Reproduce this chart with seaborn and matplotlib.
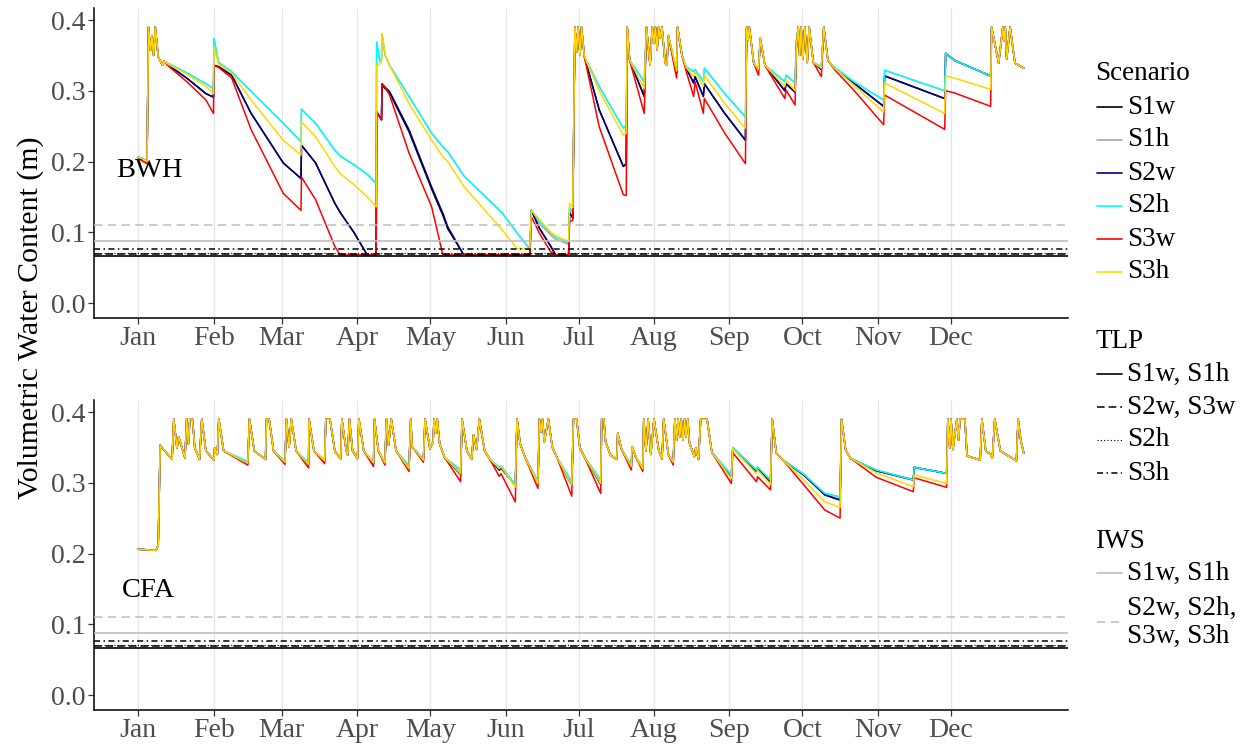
import matplotlib
matplotlib.use("Agg")
import matplotlib.pyplot as plt
from matplotlib.lines import Line2D
import pandas as pd
import seaborn as sns

# ---------------- axis categories ----------------
month_labels = ["Jan", "Feb", "Mar", "Apr", "May", "Jun",
                "Jul", "Aug", "Sep", "Oct", "Nov", "Dec"]
month_start_day = [1, 32, 60, 91, 121, 152, 182, 213, 244, 274, 305, 335]
ytick_values = [0.0, 0.1, 0.2, 0.3, 0.4]

scenarios = ["S1w", "S1h", "S2w", "S2h", "S3w", "S3h"]
scenario_colors = ["#000000", "#A6A6A6", "#000080", "#00FFFF", "#FF0000", "#FFD700"]

# ---------------- BWH (hot desert) ----------------
# points where every scenario follows the same wet-up spikes
bwh_shared_day = [5.2, 6.0, 6.6, 7.3, 8.0, 9.2, 10.9, 11.6,
                  180.5, 181.2, 181.8, 182.6, 183.2, 184.4,
                  202.0, 203.0,
                  209.9, 211.4, 212.3, 213.0, 213.6, 214.3, 214.9, 215.6, 216.3, 217.6, 218.3, 218.9,
                  222.7, 224.5,
                  251.1, 251.7, 252.2, 254.0,
                  256.7, 258.6,
                  272.3, 272.9, 273.5, 274.2, 275.0, 276.0, 276.8, 278.5,
                  282.8, 284.5,
                  351.8, 354.7, 356.4, 356.9, 357.4, 358.0, 359.4, 361.4, 365.0]
bwh_shared_vwc = [.390, .357, .377, .350, .390, .348, .336, .342,
                  .390, .355, .390, .350, .390, .348,
                  .390, .343,
                  .390, .336, .390, .367, .390, .358, .390, .375, .390, .339, .336, .378,
                  .390, .350,
                  .390, .372, .390, .339,
                  .374, .336,
                  .390, .350, .390, .345, .390, .340, .390, .340,
                  .390, .343,
                  .390, .339, .390, .370, .390, .345, .390, .339, .332]

# dry-down points where the scenarios separate
bwh_split_day = [1.0, 4.6,
                 13.0, 20.9, 28.8, 31.9, 32.1, 34.0, 39.4, 47.4,
                 60.6, 67.9, 68.1, 73.9, 81.8, 84.0, 89.8, 95.1, 98.8, 99.0,
                 100.3, 101.0, 101.2, 102.5, 104.3, 112.3, 121.6, 126.2, 128.2, 134.8,
                 150.7, 156.7, 162.0, 162.6, 166.0, 170.6, 172.5, 177.9, 178.3, 179.6,
                 190.5, 200.4, 201.6, 209.0, 222.3, 226.2, 229.3, 229.9, 233.3, 233.7,
                 242.1, 250.6, 256.0, 266.8, 267.3, 271.0, 271.5, 281.8, 287.2, 295.1,
                 307.4, 307.8, 332.5, 332.9, 336.5, 351.4]
bwh_s1w = [.206, .200,
           .337, .318, .296, .291, .336, .334, .322, .268,
           .198, .176, .223, .198, .141, .128, .099, .068, .068, .270,
           .263, .259, .308, .303, .297, .242, .161, .124, .105, .068,
           .068, .068, .068, .131, .105, .080, .068, .068, .128, .120,
           .273, .193, .197, .292, .325, .332, .311, .320, .292, .310,
           .268, .230, .330, .300, .310, .298, .360, .330, .332, .311,
           .278, .321, .289, .353, .343, .321]
bwh_s1h = [.207, .201,
           .339, .3255, .310, .303, .374, .340, .327, .299,
           .254, .228, .274, .254, .216, .208, .195, .182, .169, .369,
           .342, .345, .380, .350, .336, .292, .240, .221, .214, .180,
           .127, .099, .076, .131, .112, .096, .090, .083, .133, .128,
           .306, .247, .252, .313, .330, .334, .327, .330, .313, .332,
           .296, .263, .332, .313, .322, .311, .370, .334, .333, .313,
           .287, .329, .300, .353, .343, .321]
bwh_s2w = [.206, .200,
           .337, .318, .296, .291, .336, .334, .322, .268,
           .198, .176, .223, .198, .141, .128, .099, .068, .068, .270,
           .263, .259, .310, .305, .299, .245, .164, .127, .108, .068,
           .068, .068, .068, .131, .105, .080, .068, .068, .128, .120,
           .273, .193, .197, .292, .325, .332, .311, .320, .292, .310,
           .268, .230, .330, .300, .310, .298, .360, .330, .332, .311,
           .278, .321, .289, .353, .343, .321]
bwh_s2h = [.207, .201,
           .339, .3255, .310, .303, .374, .340, .327, .299,
           .254, .228, .274, .254, .216, .208, .195, .182, .169, .369,
           .342, .345, .380, .350, .336, .292, .240, .221, .214, .180,
           .127, .099, .076, .131, .115, .099, .093, .085, .135, .130,
           .306, .247, .252, .313, .330, .334, .327, .330, .313, .332,
           .296, .263, .332, .313, .322, .311, .370, .334, .333, .313,
           .287, .329, .300, .353, .343, .321]
bwh_s3w = [.204, .197,
           .336, .313, .287, .268, .336, .333, .318, .245,
           .155, .131, .178, .146, .080, .068, .068, .068, .068, .270,
           .263, .259, .310, .305, .294, .212, .136, .068, .068, .068,
           .068, .068, .068, .122, .098, .072, .068, .068, .115, .117,
           .249, .153, .152, .268, .318, .328, .292, .313, .268, .289,
           .240, .197, .322, .289, .301, .280, .360, .320, .330, .301,
           .252, .294, .2455, .300, .297, .278]
bwh_s3h = [.206, .200,
           .338, .3235, .306, .296, .362, .338, .325, .287,
           .230, .209, .256, .235, .193, .183, .167, .150, .136, .336,
           .338, .340, .381, .350, .336, .282, .230, .207, .200, .165,
           .103, .077, .077, .131, .118, .100, .095, .087, .141, .135,
           .300, .237, .240, .303, .328, .333, .320, .327, .306, .322,
           .282, .247, .330, .306, .315, .300, .360, .332, .332, .308,
           .270, .311, .268, .321, .318, .302]

# ---------------- CFA (humid subtropical) ----------------
cfa_shared_day = [1.0, 8.3, 9.2, 10.0, 10.9, 14.9, 15.6, 16.9, 17.6, 20.2,
                  20.9, 21.6, 22.2, 23.3, 24.2, 26.2, 27.1, 28.8, 32.1, 32.4,
                  33.5, 34.1, 36.1, 46.7, 48.7, 53.3, 53.7, 54.8, 56.6, 61.9,
                  63.0, 63.9, 65.9, 71.2, 73.2, 78.1, 79.8, 81.8, 84.2, 84.7,
                  86.5, 87.1, 87.8, 89.1, 91.1, 91.7, 93.7, 98.1, 99.7, 103.0,
                  103.9, 105.0, 107.0, 113.0, 113.6, 118.9, 120.9, 122.2, 122.6, 123.3,
                  123.9, 124.9, 126.9, 134.1, 136.1, 138.1, 138.8, 140.1, 141.2, 143.4,
                  145.4, 156.7, 158.0, 160.0, 165.9, 166.6, 167.2, 167.9, 169.6, 171.2,
                  173.2, 179.9, 181.2, 182.5, 184.5, 191.5, 192.4, 193.1, 195.1, 197.7,
                  198.1, 199.7, 204.0, 205.7, 208.8, 209.7, 210.6, 211.7, 213.0, 215.0,
                  216.3, 217.0, 218.9, 221.6, 222.3, 222.9, 223.6, 224.2, 224.9, 225.6,
                  226.2, 226.9, 227.6, 229.6, 230.2, 231.3, 232.2, 234.8, 236.8, 261.6,
                  263.3, 266.0, 290.1, 291.8, 293.8, 333.8, 334.6, 335.1, 335.9, 337.5,
                  338.2, 338.8, 340.8, 341.7, 347.1, 347.8, 349.4, 351.4, 352.1, 353.1,
                  355.4, 362.0, 362.7, 363.8, 365.0]
cfa_shared_vwc = [.206, .2045, .212, .353, .349, .333, .390, .349, .365, .335,
                  .390, .355, .390, .390, .350, .333, .390, .345, .332, .349,
                  .340, .390, .345, .390, .345, .333, .390, .390, .345, .390,
                  .350, .390, .345, .390, .345, .390, .390, .345, .334, .390,
                  .345, .339, .390, .345, .334, .390, .345, .390, .345, .390,
                  .353, .390, .345, .390, .351, .390, .348, .358, .390, .370,
                  .390, .355, .336, .390, .345, .333, .368, .347, .390, .345,
                  .334, .390, .355, .336, .390, .372, .390, .358, .390, .350,
                  .335, .390, .390, .350, .336, .390, .390, .358, .339, .333,
                  .370, .347, .351, .335, .390, .345, .390, .340, .390, .345,
                  .334, .390, .340, .390, .360, .390, .365, .390, .360, .390,
                  .365, .390, .356, .337, .349, .333, .390, .390, .343, .390,
                  .342, .332, .390, .346, .3345, .390, .349, .390, .347, .390,
                  .360, .390, .390, .338, .332, .390, .345, .340, .335, .390,
                  .345, .331, .390, .360, .342]

cfa_split_day = [46.0, 61.3, 71.0, 77.6, 97.7, 102.4, 112.3, 118.2, 133.5, 149.4,
                 150.1, 156.0, 165.3, 179.2, 191.1, 203.7, 208.4, 220.9, 244.8, 245.4,
                 255.1, 255.6, 260.9, 274.6, 283.2, 289.5, 304.4, 319.6, 320.0, 333.3]
cfa_s1w = [.327, .329, .326, .330, .327, .327, .321, .332, .312, .318,
           .321, .296, .300, .297, .298, .323, .320, .329, .308, .349,
           .316, .320, .300, .311, .283, .2756, .317, .304, .3218, .3133]
cfa_s1h = [.330, .330, .328, .332, .329, .329, .324, .333, .318, .322,
           .324, .297, .3015, .3015, .304, .325, .322, .330, .311, .350,
           .318, .322, .304, .312, .285, .280, .318, .304, .3218, .3133]
cfa_s2w = [.327, .329, .326, .330, .327, .327, .321, .332, .312, .318,
           .321, .296, .300, .297, .298, .323, .320, .329, .308, .349,
           .316, .320, .300, .311, .283, .2756, .317, .304, .3218, .3133]
cfa_s2h = [.330, .330, .328, .332, .329, .329, .324, .333, .318, .322,
           .324, .297, .3015, .3015, .304, .325, .322, .330, .311, .350,
           .318, .322, .304, .312, .285, .280, .318, .304, .3218, .3133]
cfa_s3w = [.325, .326, .321, .327, .323, .325, .316, .329, .3015, .309,
           .313, .273, .292, .281, .285, .318, .316, .325, .299, .3425,
           .3015, .3085, .290, .297, .2615, .250, .3077, .2874, .307, .2935]
cfa_s3h = [.3275, .329, .326, .331, .328, .328, .320, .332, .313, .320,
           .3227, .294, .299, .297, .299, .323, .320, .329, .306, .348,
           .313, .318, .298, .304, .273, .265, .314, .2945, .311, .299]

# ---------------- threshold lines ----------------
tlp_labels = ["S1w, S1h", "S2w, S3w", "S2h", "S3h"]
tlp_levels = [0.066, 0.069, 0.070, 0.077]
iws_labels = ["S1w, S1h", "S2w, S2h,\nS3w, S3h"]
iws_levels = [0.087, 0.110]

panel_names = ["BWH", "CFA"]

# ---------------- styling ----------------
sns.set_theme(style="white")
plt.rcParams["font.family"] = ["Liberation Serif", "DejaVu Serif"]
plt.rcParams["axes.unicode_minus"] = False

W, H = 1250, 744
TICK_GREY = "#4D4D4D"
IWS_GREY = "#BEBEBE"

tlp_styles = [
    dict(color="black", lw=1.2, linestyle="-"),
    dict(color="black", lw=1.1, linestyle=(0, (5.0, 2.6))),
    dict(color="black", lw=0.8, linestyle=(0, (1.0, 2.0))),
    dict(color="black", lw=1.1, linestyle=(0, (4.0, 2.2, 1.0, 2.2))),
]
iws_styles = [
    dict(color=IWS_GREY, lw=1.2, linestyle="-"),
    dict(color=IWS_GREY, lw=1.1, linestyle=(0, (5.5, 3.5))),
]


def build_frame(shared_day, shared_vwc, split_day, split_series):
    parts = []
    for name in scenarios:
        part = pd.DataFrame({"day": list(shared_day) + list(split_day),
                             "vwc": list(shared_vwc) + list(split_series[name])})
        part["Scenario"] = name
        parts.append(part.sort_values("day"))
    return pd.concat(parts, ignore_index=True)


frames = [
    build_frame(bwh_shared_day, bwh_shared_vwc, bwh_split_day,
                dict(S1w=bwh_s1w, S1h=bwh_s1h, S2w=bwh_s2w,
                     S2h=bwh_s2h, S3w=bwh_s3w, S3h=bwh_s3h)),
    build_frame(cfa_shared_day, cfa_shared_vwc, cfa_split_day,
                dict(S1w=cfa_s1w, S1h=cfa_s1h, S2w=cfa_s2w,
                     S2h=cfa_s2h, S3w=cfa_s3w, S3h=cfa_s3h)),
]
label_pos = [(5.4, 0.187), (5.4, 0.148)]

fig = plt.figure(figsize=(W / 100, H / 100), dpi=100)
fig.patch.set_facecolor("white")


def px_box(left, top, right, bottom):
    return [left / W, 1 - bottom / H, (right - left) / W, (bottom - top) / H]


axes = [fig.add_axes(px_box(94, 8, 1068, 318)),
        fig.add_axes(px_box(94, 400, 1068, 710))]

palette = dict(zip(scenarios, scenario_colors))
for ax, df, name, (lx, ly) in zip(axes, frames, panel_names, label_pos):
    ax.set_facecolor("white")
    sns.lineplot(data=df, x="day", y="vwc", hue="Scenario", hue_order=scenarios,
                 palette=palette, estimator=None, sort=True, legend=False,
                 linewidth=1.1, ax=ax, zorder=3)
    for lvl, st in zip(iws_levels, iws_styles):
        ax.axhline(lvl, zorder=4, **st)
    for lvl, st in zip(tlp_levels, tlp_styles):
        ax.axhline(lvl, zorder=4, **st)

    ax.text(lx, ly, name, ha="center", va="center", fontsize=20.5, color="black")

    ax.set_xlim(1 - 0.05 * 364, 365 + 0.05 * 364)
    ax.set_ylim(-0.0212, 0.417)
    ax.set_xticks(month_start_day)
    ax.set_xticklabels(month_labels)
    ax.set_yticks(ytick_values)
    ax.set_yticklabels([f"{v:.1f}" for v in ytick_values])
    ax.set_xlabel("")
    ax.set_ylabel("")
    ax.grid(axis="x", color="#E6E6E6", lw=0.9, zorder=0)
    ax.grid(axis="y", visible=False)
    ax.set_axisbelow(True)
    for side in ("top", "right"):
        ax.spines[side].set_visible(False)
    for side in ("left", "bottom"):
        ax.spines[side].set_color("black")
        ax.spines[side].set_linewidth(1.1)
    ax.tick_params(axis="both", which="major", length=4, width=0.9,
                   color="#333333", labelsize=20, labelcolor=TICK_GREY, pad=2,
                   bottom=True, left=True)

fig.text(31 / W, 1 - 318 / H, "Volumetric Water Content (m)", rotation=90,
         ha="center", va="center", fontsize=21.5, color="black")

# ---------------- legends ----------------
LEG_X_TITLE = 1095
KEY_X0, KEY_X1 = 1097, 1122
LEG_X_TEXT = 1127
LEG_FS = 19.5


def fy(y):
    return 1 - y / H


def legend_title(y, text):
    fig.text(LEG_X_TITLE / W, fy(y), text, ha="left", va="center",
             fontsize=LEG_FS, color="black")


def legend_entry(y, text, style):
    fig.add_artist(Line2D([KEY_X0 / W, KEY_X1 / W], [fy(y), fy(y)],
                          transform=fig.transFigure, **style))
    fig.text(LEG_X_TEXT / W, fy(y), text, ha="left", va="center",
             fontsize=LEG_FS, color="black", linespacing=1.15)


legend_title(73, "Scenario")
for y, name, col in zip([107, 140, 173, 206, 239, 272], scenarios, scenario_colors):
    legend_entry(y, name, dict(color=col, lw=1.2, linestyle="-"))

legend_title(342, "TLP")
for y, lab, st in zip([374, 407, 440, 473], tlp_labels, tlp_styles):
    legend_entry(y, lab, st)

legend_title(541, "IWS")
for y, lab, st in zip([573, 622], iws_labels, iws_styles):
    legend_entry(y, lab, st)

fig.savefig("out.png", dpi=100, facecolor="white")
